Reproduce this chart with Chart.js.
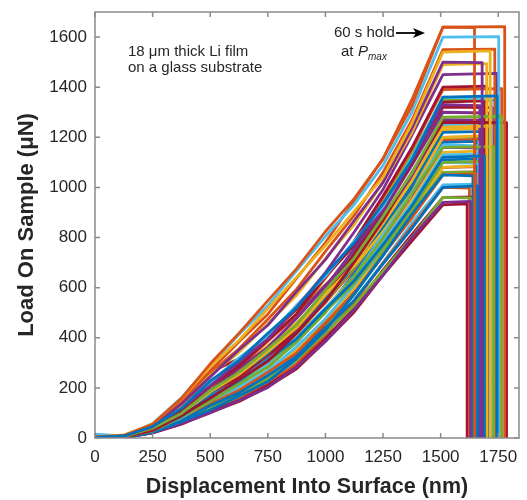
<!DOCTYPE html>
<html>
<head>
<meta charset="utf-8">
<script src="https://cdn.jsdelivr.net/npm/chart.js@4.4.1/dist/chart.umd.min.js"></script>
<style>
  html, body { margin: 0; padding: 0; background: #fff; }
  #wrap { width: 527px; height: 500px; }
</style>
</head>
<body>
<div id="wrap"><canvas id="loadCurves"></canvas></div>
<script>
const depthGrid = [0, 125, 250, 375, 500, 625, 750, 875, 1000, 1125, 1250, 1375, 1510];

// load (uN) along depthGrid, one row per indent; last value is Pmax
const loadingCurves = [
  [2, 8, 46, 118, 228, 310, 418, 520, 655, 778, 935, 1110, 1360],
  [4, 10, 55, 158, 296, 418, 548, 676, 824, 955, 1114, 1326, 1640],
  [3, 12, 56, 156, 285, 390, 516, 642, 768, 905, 1040, 1255, 1540],
  [1, 8, 45, 136, 244, 352, 450, 584, 712, 868, 1020, 1236, 1500],
  [2, 5, 39, 98, 190, 262, 356, 452, 590, 718, 884, 1058, 1280],
  [15, 8, 58, 160, 290, 414, 528, 668, 805, 932, 1088, 1300, 1600],
  [0, 3, 30, 90, 158, 234, 306, 418, 544, 702, 868, 1060, 1260],
  [1, 6, 34, 86, 166, 228, 312, 396, 515, 628, 772, 926, 1120],
  [2, 9, 50, 148, 268, 384, 494, 638, 780, 948, 1115, 1350, 1640],
  [3, 10, 50, 130, 250, 342, 456, 570, 716, 852, 1020, 1218, 1490],
  [2, 6, 40, 118, 208, 304, 395, 522, 660, 822, 992, 1208, 1450],
  [0, 4, 28, 84, 146, 215, 282, 384, 500, 646, 798, 976, 1160],
  [4, 7, 42, 124, 220, 320, 408, 530, 646, 786, 924, 1120, 1360],
  [1, 6, 43, 108, 207, 286, 390, 496, 644, 786, 966, 1158, 1400],
  [0, 2, 26, 68, 130, 180, 250, 325, 438, 550, 695, 836, 1000],
  [2, 10, 52, 135, 260, 356, 474, 594, 745, 888, 1060, 1268, 1550],
  [3, 5, 38, 96, 184, 254, 345, 440, 570, 695, 856, 1026, 1240],
  [1, 7, 37, 108, 190, 278, 362, 478, 604, 754, 910, 1108, 1330],
  [2, 5, 34, 85, 164, 225, 306, 390, 506, 617, 760, 910, 1100],
  [1, 3, 31, 80, 152, 212, 292, 380, 512, 645, 812, 978, 1170],
  [2, 9, 45, 150, 262, 316, 410, 514, 645, 768, 918, 1095, 1340],
  [0, 1, 22, 65, 112, 168, 225, 318, 430, 574, 728, 894, 1050],
  [2, 8, 42, 108, 206, 284, 386, 492, 638, 780, 958, 1150, 1390],
  [3, 7, 40, 104, 200, 275, 368, 460, 577, 686, 822, 980, 1200],
  [0, 2, 20, 58, 100, 150, 202, 284, 385, 512, 650, 800, 940],
  [1, 3, 25, 66, 125, 174, 238, 312, 420, 530, 666, 802, 960],
  [2, 5, 35, 88, 168, 230, 315, 400, 520, 634, 780, 935, 1130],
  [1, 4, 31, 94, 166, 245, 322, 436, 570, 735, 908, 1110, 1320],
  [3, 6, 36, 94, 180, 250, 340, 432, 560, 685, 842, 1010, 1220],
  [0, 4, 27, 72, 136, 190, 262, 340, 460, 578, 730, 878, 1050],
  [1, 7, 34, 92, 164, 240, 310, 410, 518, 646, 780, 950, 1140],
  [1, 3, 32, 90, 168, 236, 324, 422, 568, 716, 902, 1088, 1300],
  [0, 2, 24, 62, 118, 165, 232, 314, 440, 572, 742, 896, 1060],
  [1, 4, 27, 78, 140, 204, 268, 364, 476, 612, 756, 926, 1100],
  [0, 1, 21, 56, 106, 150, 210, 285, 398, 518, 670, 812, 960],
  [2, 3, 29, 84, 150, 218, 288, 390, 510, 656, 812, 992, 1180],
  [0, 2, 23, 58, 110, 156, 219, 296, 415, 540, 699, 845, 1000],
  [1, 3, 28, 74, 140, 196, 268, 352, 472, 596, 750, 904, 1080],
  [2, 8, 43, 110, 212, 292, 388, 488, 610, 727, 870, 1038, 1270],
  [2, 6, 36, 97, 172, 250, 326, 432, 545, 680, 820, 1000, 1200],
  [0, 2, 21, 62, 108, 162, 217, 305, 414, 550, 700, 858, 1010],
  [0, 1, 20, 55, 102, 146, 204, 276, 386, 503, 650, 786, 930],
  [0, 3, 25, 66, 124, 172, 244, 330, 462, 600, 776, 938, 1110],
  [1, 6, 33, 96, 172, 248, 324, 428, 540, 674, 815, 990, 1190],
  [2, 8, 45, 124, 222, 318, 405, 514, 612, 724, 830, 1002, 1230],
  [1, 7, 35, 105, 188, 272, 348, 452, 550, 670, 788, 955, 1160],
  [1, 4, 35, 92, 175, 244, 335, 440, 590, 745, 936, 1130, 1350],
  [3, 6, 38, 97, 185, 256, 348, 444, 575, 702, 862, 1035, 1250],
  [0, 2, 23, 66, 116, 173, 232, 326, 444, 590, 748, 918, 1080]
];

// displacement (nm) and load (uN) at the end of the 60 s hold
const holdEnds = [1745, 1778, 1715, 1680, 1765, 1752, 1786, 1690, 1647, 1700, 1746, 1730, 1720, 1700,
  1660, 1735, 1720, 1670, 1700, 1665, 1690, 1640, 1765, 1680, 1630, 1655, 1700, 1725,
  1710, 1660, 1690, 1705, 1645, 1675, 1678, 1655, 1625, 1650, 1695, 1725, 1640, 1615,
  1668, 1712, 1690, 1705, 1738, 1684, 1662];
const holdEndLoads = [1365, 1642, 1545, 1498, 1284, 1602, 1258, 1126, 1638, 1494, 1455, 1163, 1352, 1404,
  1006, 1552, 1245, 1326, 1104, 1166, 1345, 1046, 1394, 1207, 944, 957, 1134, 1318,
  1224, 1054, 1146, 1297, 1063, 1096, 962, 1184, 997, 1085, 1268, 1204, 1013, 934,
  1114, 1193, 1236, 1157, 1347, 1255, 1083];

const xTicks = [0, 250, 500, 750, 1000, 1250, 1500, 1750];
const yTicks = [0, 200, 400, 600, 800, 1000, 1200, 1400, 1600];

// matlab default line colours
const palette = ['#0072BD', '#D95319', '#EDB120', '#7E2F8E', '#77AC30', '#4DBEEE', '#A2142F'];

const FONT = '"Liberation Sans", Arial, Helvetica, sans-serif';
const INK = '#262626';
const FRAME = '#8a8a8a';

function buildDatasets(){
  return loadingCurves.map((loads, i) => {
    const pts = depthGrid.map((d, j) => ({ x: d, y: loads[j] }));
    pts.push({ x: holdEnds[i], y: holdEndLoads[i] });
    pts.push({ x: holdEnds[i], y: 0 });
    return {
      data: pts,
      showLine: true,
      borderColor: palette[i % palette.length],
      backgroundColor: palette[i % palette.length],
      borderWidth: 2.8,
      borderJoinStyle: 'round',
      pointRadius: 0,
      tension: 0
    };
  });
}

// box, inward ticks on all four sides, and the two text notes
const frameAndNotes = {
  id: 'frameAndNotes',
  afterDraw(chart){
    const { ctx, chartArea: a, scales: { x, y } } = chart;
    ctx.save();
    ctx.strokeStyle = FRAME;
    ctx.lineWidth = 1.5;
    ctx.strokeRect(a.left, a.top, a.right - a.left, a.bottom - a.top);
    ctx.beginPath();
    for (const v of xTicks){
      const px = x.getPixelForValue(v);
      ctx.moveTo(px, a.bottom); ctx.lineTo(px, a.bottom - 5);
      ctx.moveTo(px, a.top); ctx.lineTo(px, a.top + 5);
    }
    for (const v of yTicks){
      const py = y.getPixelForValue(v);
      ctx.moveTo(a.left, py); ctx.lineTo(a.left + 5, py);
      ctx.moveTo(a.right, py); ctx.lineTo(a.right - 5, py);
    }
    ctx.stroke();

    ctx.fillStyle = INK;
    ctx.textBaseline = 'middle';
    ctx.textAlign = 'left';
    ctx.font = '15px ' + FONT;
    ctx.fillText('18 \u03bcm thick Li film', 128, 52);
    ctx.fillText('on a glass substrate', 128, 68);
    ctx.fillText('60 s hold', 334, 33);
    ctx.fillText('at', 341, 52);
    ctx.font = 'italic 15px ' + FONT;
    ctx.fillText('P', 358, 52);
    ctx.font = 'italic 10px ' + FONT;
    ctx.fillText('max', 368, 57);

    // arrow pointing at the hold plateau
    ctx.strokeStyle = '#000';
    ctx.fillStyle = '#000';
    ctx.lineWidth = 1.8;
    ctx.beginPath();
    ctx.moveTo(396, 33); ctx.lineTo(418, 33);
    ctx.stroke();
    ctx.beginPath();
    ctx.moveTo(425, 33); ctx.lineTo(413, 28); ctx.lineTo(416, 33); ctx.lineTo(413, 38);
    ctx.closePath();
    ctx.fill();
    ctx.restore();
  }
};

new Chart(document.getElementById('loadCurves'), {
  type: 'scatter',
  data: { datasets: buildDatasets() },
  options: {
    responsive: true,
    maintainAspectRatio: false,
    animation: false,
    layout: { padding: { left: 0, right: 8, top: 12, bottom: 0 } },
    plugins: { legend: { display: false }, tooltip: { enabled: false } },
    scales: {
      x: {
        type: 'linear',
        min: 0,
        max: 1840,
        afterFit: s => { s.height = 62; },
        afterBuildTicks: s => { s.ticks = xTicks.map(v => ({ value: v })); },
        grid: { display: false },
        border: { display: false },
        ticks: { color: INK, font: { family: FONT, size: 17 }, padding: 1, maxRotation: 0, callback: v => String(v) },
        title: {
          display: true,
          text: 'Displacement Into Surface (nm)',
          color: INK,
          font: { family: FONT, size: 21.5, weight: 'bold' },
          padding: { top: 0, bottom: 0 }
        }
      },
      y: {
        type: 'linear',
        min: 0,
        max: 1700,
        afterFit: s => { s.width = 95; },
        afterBuildTicks: s => { s.ticks = yTicks.map(v => ({ value: v })); },
        grid: { display: false },
        border: { display: false },
        ticks: { color: INK, font: { family: FONT, size: 17 }, padding: 0, callback: v => String(v) },
        title: {
          display: true,
          text: 'Load On Sample (\u03bcN)',
          color: INK,
          font: { family: FONT, size: 22, weight: 'bold' },
          padding: { top: 14, bottom: 0 }
        }
      }
    }
  },
  plugins: [frameAndNotes]
});
</script>
</body>
</html>
